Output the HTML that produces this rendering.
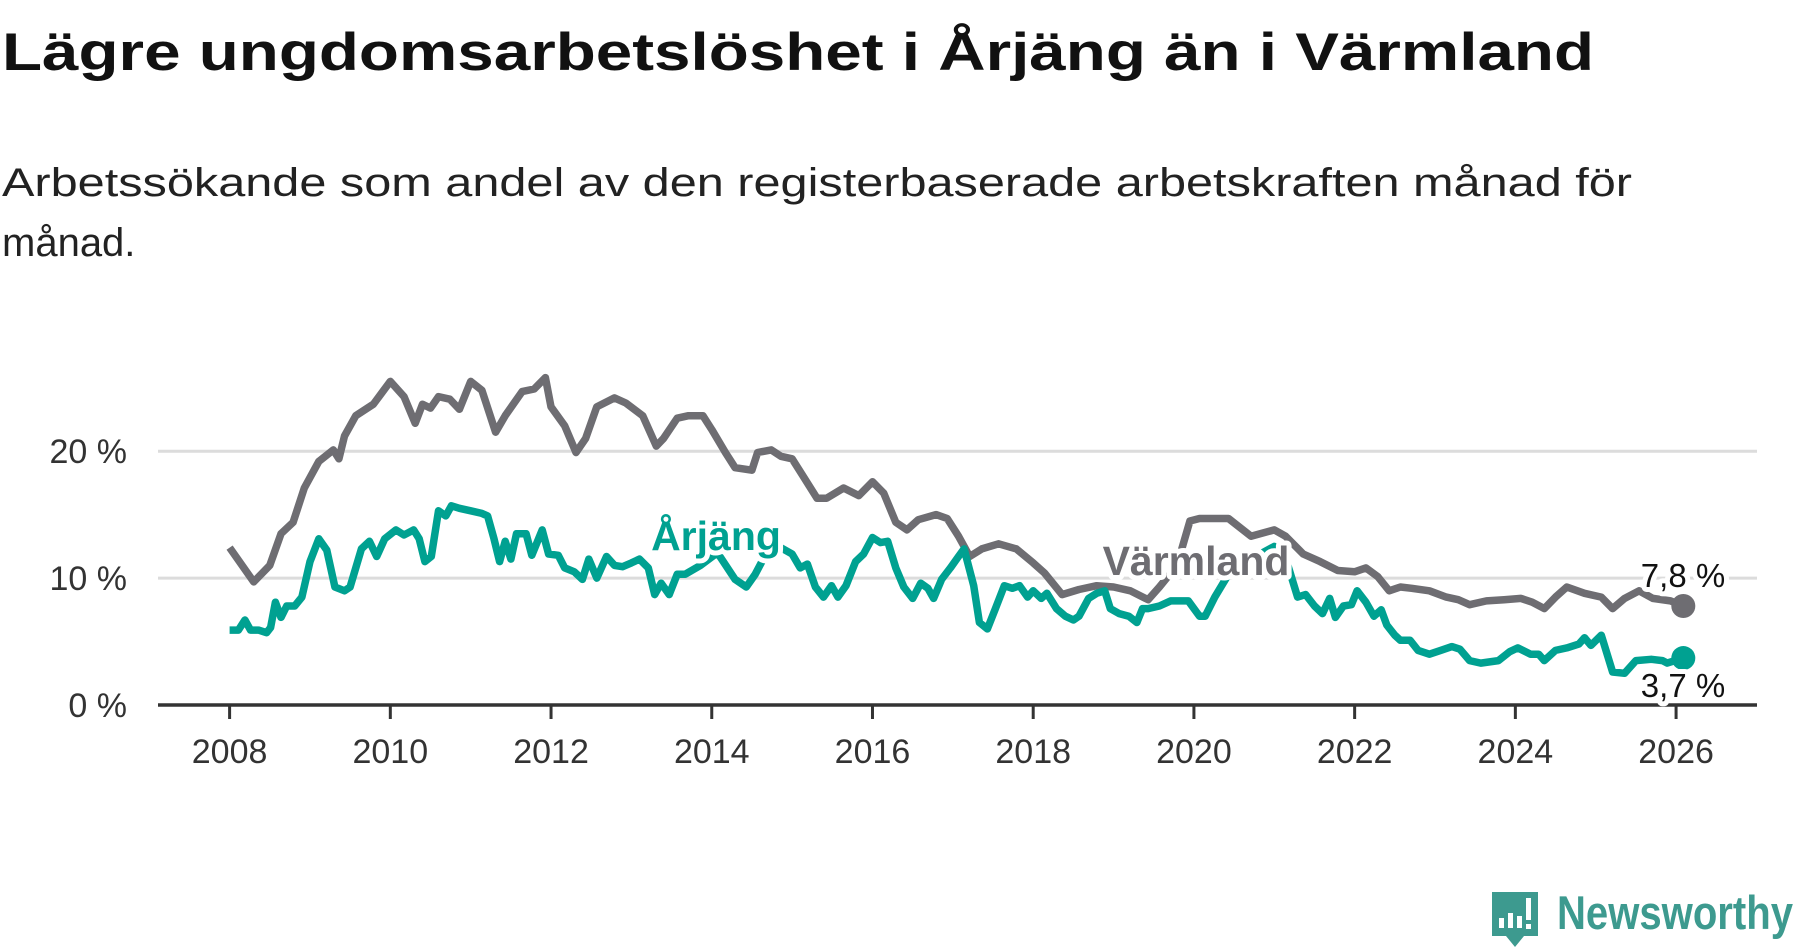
<!DOCTYPE html>
<html><head><meta charset="utf-8"><style>
html,body{margin:0;padding:0;background:#fff;}
svg{display:block;font-family:"Liberation Sans",sans-serif;}
</style></head><body>
<svg id="chart" width="1800" height="948" viewBox="0 0 1800 948" xmlns="http://www.w3.org/2000/svg">
<text x="2" y="70" font-size="53" font-weight="bold" fill="#111" textLength="1592" lengthAdjust="spacingAndGlyphs">Lägre ungdomsarbetslöshet i Årjäng än i Värmland</text>
<text x="2" y="196" font-size="40" fill="#222" textLength="1630" lengthAdjust="spacingAndGlyphs">Arbetssökande som andel av den registerbaserade arbetskraften månad för</text>
<text x="2" y="256" font-size="40" fill="#222">månad.</text>
<g id="grid"></g>
<g id="lines"></g>
<g id="axes"></g>
<g id="labels"></g>
<g>
<path d="M1492 892 h46 v44 h-14 l-9 11 l-9 -11 h-14 z" fill="#3d9a8f"/>
<rect x="1499" y="918" width="5" height="10" fill="#fff"/>
<rect x="1508" y="913" width="5" height="15" fill="#fff"/>
<rect x="1517" y="916" width="5" height="12" fill="#fff"/>
<rect x="1526" y="898" width="5" height="22" fill="#fff"/>
<rect x="1526" y="924" width="5" height="5" fill="#fff"/>
<text x="1557" y="929" font-size="47" font-weight="bold" fill="#3d9a8f" textLength="236" lengthAdjust="spacingAndGlyphs">Newsworthy</text>
</g>
</svg>
<script>
const yTicks = [0, 10, 20];
const yTickLabels = ["0 %", "10 %", "20 %"];
const xTicks = [2008, 2010, 2012, 2014, 2016, 2018, 2020, 2022, 2024, 2026];
const varmlandT = [0,.30,.50,.64,.79,.93,1.11,1.29,1.36,1.43,1.57,1.79,2.00,2.17,2.31,2.40,2.50,2.60,2.74,2.86,3.00,3.14,3.31,3.43,3.64,3.79,3.93,4.00,4.17,4.31,4.43,4.57,4.79,4.93,5.14,5.31,5.40,5.57,5.71,5.89,6.00,6.17,6.29,6.50,6.57,6.74,6.86,7.00,7.14,7.31,7.43,7.64,7.83,8.00,8.14,8.29,8.43,8.57,8.79,8.93,9.07,9.21,9.36,9.57,9.79,10.00,10.14,10.36,10.57,10.79,11.00,11.21,11.43,11.57,11.79,11.95,12.07,12.21,12.43,12.71,13.00,13.14,13.36,13.57,13.79,14.00,14.14,14.29,14.43,14.57,14.71,14.93,15.14,15.29,15.43,15.64,15.86,16.07,16.21,16.36,16.50,16.64,16.86,17.07,17.21,17.36,17.54,17.71,17.93,18.09];
const varmlandV = [12.4,9.7,11,13.5,14.4,17.1,19.2,20.1,19.4,21.2,22.8,23.7,25.5,24.3,22.2,23.7,23.4,24.3,24.1,23.3,25.5,24.8,21.5,22.8,24.7,24.9,25.8,23.5,22,19.9,21,23.5,24.2,23.8,22.8,20.4,21,22.6,22.8,22.8,21.7,19.9,18.7,18.5,19.9,20.1,19.6,19.4,18,16.3,16.3,17.1,16.5,17.6,16.7,14.4,13.8,14.6,15,14.7,13.3,11.7,12.3,12.7,12.3,11.2,10.4,8.7,9.1,9.4,9.3,9.0,8.3,9.3,11,14.5,14.7,14.7,14.7,13.3,13.8,13.3,11.9,11.3,10.6,10.5,10.8,10.1,9,9.3,9.2,9,8.5,8.3,7.9,8.2,8.3,8.4,8.1,7.6,8.5,9.3,8.8,8.5,7.6,8.4,9,8.4,8.2,7.8];
const arjangT = [0,.11,.19,.26,.36,.46,.51,.57,.64,.71,.81,.90,1.00,1.11,1.21,1.31,1.43,1.50,1.64,1.74,1.83,1.93,2.07,2.17,2.29,2.36,2.43,2.51,2.60,2.69,2.76,2.86,3.00,3.14,3.21,3.29,3.36,3.43,3.50,3.57,3.69,3.76,3.89,3.97,4.09,4.17,4.29,4.39,4.47,4.57,4.69,4.79,4.89,5.00,5.10,5.21,5.29,5.37,5.47,5.57,5.67,5.86,6.07,6.29,6.43,6.54,6.64,6.83,7.00,7.10,7.19,7.29,7.39,7.49,7.57,7.67,7.79,7.89,8.00,8.10,8.19,8.29,8.39,8.50,8.60,8.69,8.76,8.86,8.97,9.07,9.14,9.26,9.33,9.43,9.53,9.64,9.74,9.83,9.93,10.00,10.10,10.17,10.29,10.40,10.50,10.57,10.69,10.79,10.89,10.96,11.07,11.19,11.29,11.36,11.43,11.57,11.71,11.93,12.07,12.14,12.26,12.43,12.71,13.00,13.17,13.29,13.39,13.50,13.60,13.69,13.76,13.86,13.96,14.03,14.14,14.24,14.33,14.40,14.50,14.57,14.69,14.79,14.93,15.07,15.21,15.31,15.43,15.57,15.79,15.93,16.03,16.19,16.29,16.36,16.50,16.64,16.79,16.86,16.94,17.07,17.21,17.36,17.50,17.69,17.83,17.89,18.09];
const arjangV = [5.9,5.9,6.7,5.9,5.9,5.7,6.1,8.1,6.9,7.8,7.8,8.5,11.3,13.1,12.2,9.3,9,9.3,12.3,12.9,11.7,13.1,13.8,13.4,13.8,13.1,11.3,11.7,15.3,14.9,15.7,15.5,15.3,15.1,14.9,13.1,11.3,12.9,11.5,13.5,13.5,11.8,13.8,11.9,11.8,10.8,10.5,9.9,11.5,10,11.7,11.0,10.9,11.2,11.5,10.8,8.7,9.6,8.7,10.3,10.3,11,12,9.9,9.3,10.3,11.5,12.5,11.9,10.8,11.1,9.3,8.5,9.4,8.5,9.4,11.3,11.9,13.2,12.8,12.9,10.8,9.3,8.4,9.6,9.2,8.4,9.9,10.8,11.7,12.3,9.4,6.5,6.0,7.6,9.4,9.2,9.4,8.5,9,8.4,8.8,7.6,7,6.7,7,8.4,8.8,9,7.6,7.2,7,6.5,7.6,7.6,7.8,8.2,8.2,7,7,8.5,10.3,11.5,12.5,11,8.5,8.7,7.8,7.2,8.4,6.9,7.8,7.9,9,8.1,7,7.5,6.3,5.5,5.1,5.1,4.3,4,4.3,4.6,4.4,3.5,3.3,3.5,4.2,4.5,4,4,3.5,4.3,4.5,4.8,5.3,4.7,5.5,2.6,2.5,3.5,3.6,3.5,3.3,3.7];
const endLabels = ["7,8 %", "3,7 %"];

const NS = "http://www.w3.org/2000/svg";
const X0 = 229.6, PXY = 80.36, Y0 = 705, PXV = 12.69;
function xs(year){ return X0 + (year - 2008) * PXY; }
function ys(v){ return Y0 - v * PXV; }
function mk(tag, attrs, parent){
  const e = document.createElementNS(NS, tag);
  for (const k in attrs) e.setAttribute(k, attrs[k]);
  parent.appendChild(e); return e;
}
const grid = document.getElementById('grid');
const axes = document.getElementById('axes');
const lines = document.getElementById('lines');
const labels = document.getElementById('labels');

yTicks.forEach((t, i) => {
  if (t !== 0) {
    const g = mk('line', {x1:158, x2:1757, y1:ys(t), y2:ys(t), stroke:'#dcdcdc', 'stroke-width':3}, grid);
    
    
  }
  const tx = mk('text', {x:127, y:ys(t) + 12, 'font-size':34, fill:'#333', 'text-anchor':'end'}, axes);
  tx.textContent = yTickLabels[i];
  
  
});
const ax = mk('line', {x1:158, x2:1757, y1:Y0, y2:Y0, stroke:'#333', 'stroke-width':3.5}, axes);


xTicks.forEach(t => {
  const tk = mk('line', {x1:xs(t), x2:xs(t), y1:Y0, y2:Y0 + 14, stroke:'#333', 'stroke-width':3}, axes);
  
  
  const tx = mk('text', {x:xs(t), y:763, 'font-size':34, fill:'#333', 'text-anchor':'middle'}, axes);
  tx.textContent = String(t);
  
  
});
function pathD(T, V){ return T.map((t, i) => (i ? 'L' : 'M') + xs(2008 + t).toFixed(1) + ' ' + ys(V[i]).toFixed(1)).join(' '); }
const gl = mk('path', {d:pathD(varmlandT, varmlandV), fill:'none', stroke:'#6e6d72', 'stroke-width':7.5, 'stroke-linejoin':'round'}, lines);


const tl = mk('path', {d:pathD(arjangT, arjangV), fill:'none', stroke:'#00a191', 'stroke-width':7.5, 'stroke-linejoin':'round'}, lines);


const gEnd = varmlandV.length - 1, tEnd = arjangV.length - 1;
const gd = mk('circle', {cx:xs(2008 + varmlandT[gEnd]), cy:ys(varmlandV[gEnd]), r:12, fill:'#6e6d72'}, lines);


const td = mk('circle', {cx:xs(2008 + arjangT[tEnd]), cy:ys(arjangV[tEnd]), r:12, fill:'#00a191'}, lines);



const halo = {stroke:'#fff', 'stroke-width':10, 'paint-order':'stroke', 'stroke-linejoin':'round'};
const la = mk('text', Object.assign({x:716, y:550, 'font-size':41, 'font-weight':'bold', fill:'#00a191', 'text-anchor':'middle'}, halo), labels);
la.textContent = 'Årjäng';


const lv = mk('text', Object.assign({x:1196, y:575, 'font-size':41, 'font-weight':'bold', fill:'#6e6d72', 'text-anchor':'middle'}, halo), labels);
lv.textContent = 'Värmland';


const e1 = mk('text', Object.assign({x:1683, y:587, 'font-size':33, fill:'#111', 'text-anchor':'middle'}, halo), labels);
e1.textContent = endLabels[0];


const e2 = mk('text', Object.assign({x:1683, y:697, 'font-size':33, fill:'#111', 'text-anchor':'middle'}, halo), labels);
e2.textContent = endLabels[1];


</script>
</body></html>
